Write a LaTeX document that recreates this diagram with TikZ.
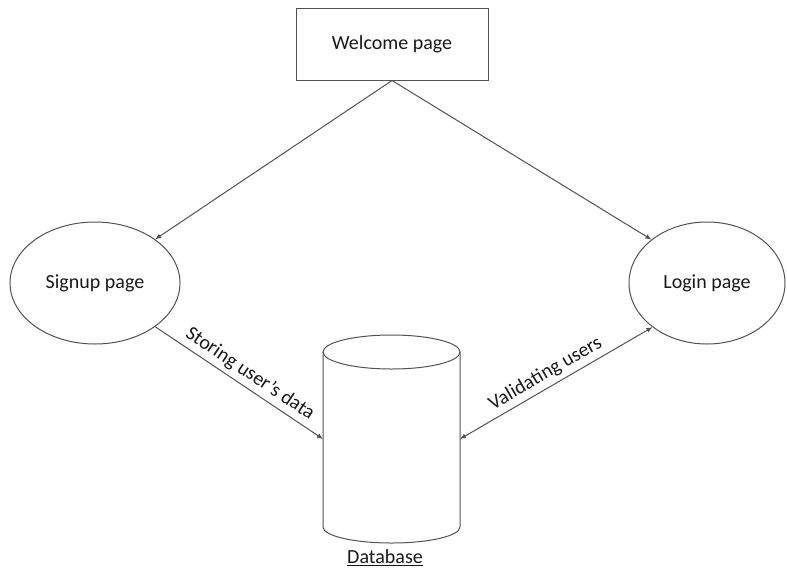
\documentclass[tikz,border=0pt]{standalone}
\usepackage{fontspec}
\setmainfont{Carlito}
\usetikzlibrary{shapes.geometric,arrows.meta}
\tikzset{
  line/.style={draw=black!68, line width=1pt},
  conn/.style={line, -{Latex[length=6pt,width=5pt]}},
  bconn/.style={line, {Latex[length=6pt,width=5pt]}-{Latex[length=6pt,width=5pt]}},
  lbl/.style={font=\fontsize{20}{24}\selectfont, text=black!90},
  pagebox/.style={line, lbl, minimum width=192pt, minimum height=72pt, inner sep=0pt},
  pageoval/.style={line, lbl, ellipse, inner sep=0pt}
}
\begin{document}
\begin{tikzpicture}[x=1pt,y=-1pt]
\useasboundingbox[fill=white] (0,0) rectangle (787,574);
\node[pagebox] (welcome) at (392,44) {Welcome page};
\node[pageoval, minimum width=170pt, minimum height=122pt] (signup) at (95,283) {Signup page};
\node[pageoval, minimum width=156pt, minimum height=122pt] (login) at (707,283) {Login page};
% database cylinder
\node[minimum width=137pt, minimum height=208pt, inner sep=0pt, outer sep=0pt] (db) at (391.5,439) {};
\draw[line] (323,352) -- (323,527) arc[start angle=180, end angle=0, x radius=68.5, y radius=16] -- (460,352);
\draw[line] (391.5,352) ellipse[x radius=68.5, y radius=17];
\node[lbl] (dblabel) at (385,558) {\underline{Database}};
% connectors
\draw[conn] (welcome.south) -- (signup.36);
\draw[conn] (welcome.south) -- (login.142);
\draw[conn] (signup.324) -- node[lbl, sloped, above=1pt, pos=0.52] {Storing user’s data} (db.west);
\draw[bconn] (db.east) -- node[lbl, sloped, above=1pt, pos=0.48] {Validating users} (login.219);
\end{tikzpicture}
\end{document}
